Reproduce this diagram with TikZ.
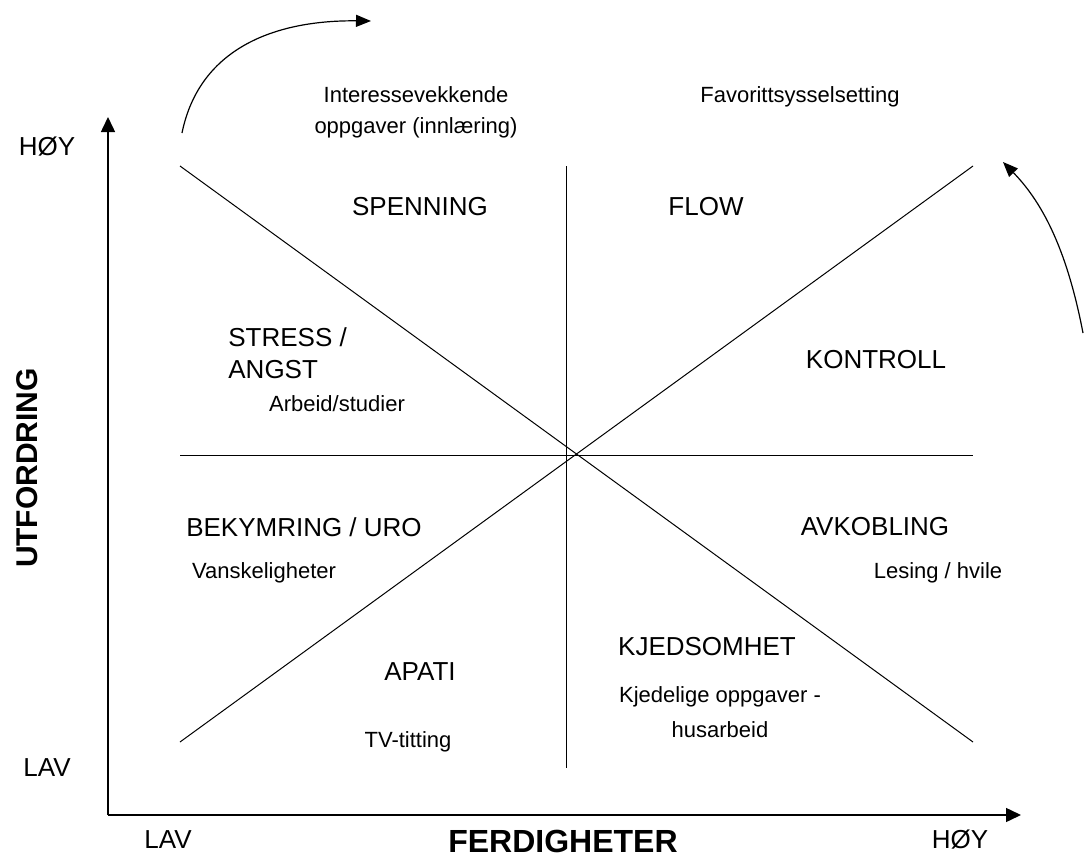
\documentclass[tikz,border=0pt]{standalone}
\usepackage{fontspec}
\setmainfont{Liberation Sans}
\usetikzlibrary{arrows.meta}
\tikzset{
  axis/.style={line width=0.75pt, -{Triangle[length=7.5pt,width=7pt]}},
  divline/.style={line width=0.5pt},
  curvearrow/.style={line width=0.6pt, -{Triangle[length=7.5pt,width=6pt]}},
  zone/.style={font=\fontsize{13}{16}\selectfont, align=center, inner sep=0pt},
  hint/.style={font=\fontsize{11}{15.5}\selectfont, align=center, inner sep=0pt},
  tick/.style={font=\fontsize{13}{15}\selectfont, inner sep=0pt},
  axname/.style={font=\fontsize{15}{17}\selectfont\bfseries, inner sep=0pt}
}
\begin{document}
\begin{tikzpicture}[x=0.5pt, y=-0.5pt]
  \useasboundingbox (0,0) rectangle (1084,857);
  \coordinate (orig) at (108,815);
  \coordinate (ytop) at (108,117);
  \coordinate (xend) at (1021,815);
  \draw[axis] (orig) -- (ytop);
  \draw[axis] (orig) -- (xend);
  \coordinate (tl) at (180,166);
  \coordinate (tr) at (973,166);
  \coordinate (bl) at (180,742);
  \coordinate (br) at (973,742);
  \coordinate (ml) at (180,455);
  \coordinate (mr) at (973,455);
  \coordinate (vt) at (566,166);
  \coordinate (vb) at (566,768);
  \draw[divline] (tl) -- (br);
  \draw[divline] (bl) -- (tr);
  \draw[divline] (ml) -- (mr);
  \draw[divline] (vt) -- (vb);
  \coordinate (lstart) at (182,133);
  \coordinate (lend) at (371,21);
  \draw[curvearrow] (lstart) .. controls (200,45) and (280,20) .. (lend);
  \coordinate (rstart) at (1083,333);
  \coordinate (rend) at (1003,162);
  \draw[curvearrow] (rstart) .. controls (1068,255) and (1045,205) .. (rend);
  \node[tick] (yhigh) at (47,147) {HØY};
  \node[tick] (ylow) at (47,768) {LAV};
  \node[tick] (xlow) at (168,840) {LAV};
  \node[tick] (xhigh) at (960,840) {HØY};
  \node[axname, font=\fontsize{16}{18}\selectfont\bfseries] (xname) at (563,841) {FERDIGHETER};
  \node[axname, rotate=90] (yname) at (27,468) {UTFORDRING};
  \node[hint] (learn) at (416,112) {Interessevekkende\\oppgaver (innlæring)};
  \node[hint] (fav) at (800,97) {Favorittsysselsetting};
  \node[zone] (spenning) at (420,207) {SPENNING};
  \node[zone] (flow) at (706,207) {FLOW};
  \node[zone, align=left, anchor=west] (stress) at (228,353) {STRESS /\\ANGST};
  \node[hint] (work) at (337,404) {Arbeid/studier};
  \node[zone] (kontroll) at (876,360) {KONTROLL};
  \node[zone] (uro) at (304,527) {BEKYMRING / URO};
  \node[hint] (hard) at (264,573) {Vanskeligheter};
  \node[zone] (avkobling) at (875,527) {AVKOBLING};
  \node[hint] (rest) at (938,573) {Lesing / hvile};
  \node[zone] (apati) at (420,672) {APATI};
  \node[hint] (tv) at (408,742) {TV-titting};
  \node[zone] (kjed) at (707,647) {KJEDSOMHET};
  \node[hint] (chores) at (720,712) {Kjedelige oppgaver -\\[2pt]husarbeid};
\end{tikzpicture}
\end{document}
